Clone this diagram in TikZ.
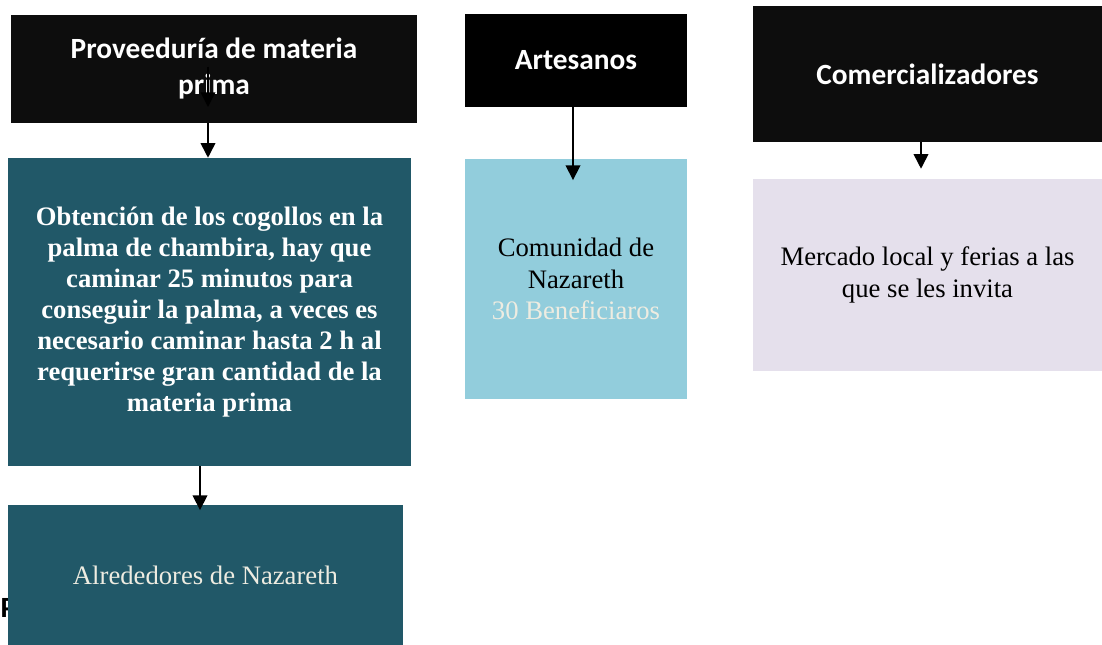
\documentclass[tikz,border=0pt]{standalone}
\usepackage{fontspec}
\setmainfont{Liberation Serif}
\newfontfamily\headfont{Carlito}
\usetikzlibrary{arrows.meta, positioning}

\definecolor{cabeza}{HTML}{0D0D0D}
\definecolor{petroleo}{HTML}{215868}
\definecolor{celeste}{HTML}{92CDDC}
\definecolor{lavanda}{HTML}{E5E0EC}
\definecolor{crema}{HTML}{EEECE1}

\tikzset{
	cabecera/.style={fill=cabeza, text=white, align=center, inner sep=0pt,
		font=\headfont\bfseries\fontsize{22}{27}\selectfont},
	caja/.style={align=center, inner sep=0pt,
		font=\fontsize{20}{23.4}\selectfont},
	flecha/.style={-{Triangle[width=11pt,length=11pt]}, line width=1.2pt}
}

\begin{document}
\begin{tikzpicture}[x=0.75pt, y=-0.75pt]
			\useasboundingbox (0, 0) rectangle (1102, 645);
			% cabeceras
			\node[cabecera, minimum width=304.5pt, minimum height=81pt] (prov) at (214, 69) {Proveeduría de materia\\prima};
			\node[cabecera, fill=black, minimum width=166.5pt, minimum height=69.75pt] (arte) at (576, 60.5) {Artesanos};
			\node[cabecera, minimum width=261.75pt, minimum height=102pt] (come) at (927.5, 74) {Comercializadores};
			% texto cortado
			\node[anchor=base west, font=\headfont\bfseries\fontsize{22}{27}\selectfont] (pr) at (-4, 617) {Pr};
			% cajas
			\node[caja, fill=petroleo, text=white, font=\bfseries\fontsize{20}{23.2}\selectfont, minimum width=302.25pt, minimum height=231pt] (obte) at (209.5, 312)
				{Obtención de los cogollos en la\\palma de chambira, hay que\\caminar 25 minutos para\\conseguir la palma, a veces es\\necesario caminar hasta 2 h al\\requerirse gran cantidad de la\\materia prima};
			\node[caja, fill=petroleo, text=crema, minimum width=296.25pt, minimum height=105pt] (alre) at (205.5, 575) {Alrededores de Nazareth};
			\node[caja, fill=celeste, minimum width=166.5pt, minimum height=180pt] (comu) at (576, 279)
				{Comunidad de\\Nazareth\\\textcolor{crema}{30 Beneficiaros}};
			\node[caja, fill=lavanda, minimum width=261.75pt, minimum height=144pt] (merc) at (927.5, 275) {Mercado local y ferias a las\\que se les invita};
			% flechas
			\coordinate (ini) at (208, 67);
			\coordinate (fin) at (208, 107);
			\draw[flecha] (ini) -- (fin);
			\draw[flecha] (prov.south -| 208, 0) -- (obte.north -| 208, 0);
			\draw[flecha, shorten >=-4pt] (obte.south -| 200, 0) -- (alre.north -| 200, 0);
			\draw[flecha, shorten >=-16pt] (arte.south -| 573, 0) -- (comu.north -| 573, 0);
			\draw[flecha, shorten >=7.5pt] (come.south -| 921, 0) -- (merc.north -| 921, 0);
		\end{tikzpicture}
\end{document}
